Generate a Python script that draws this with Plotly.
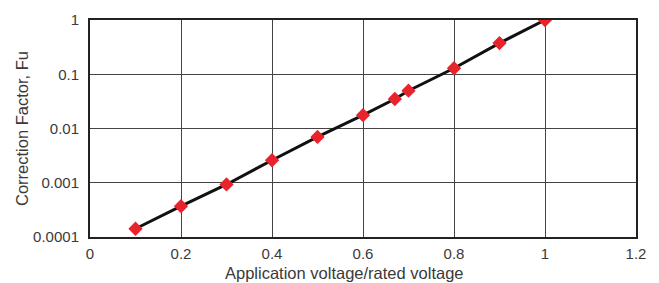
import plotly.graph_objects as go

ratio = [0.1, 0.2, 0.3, 0.4, 0.5, 0.6, 0.67, 0.7, 0.8, 0.9, 1.0]
fu = [0.000142, 0.00037, 0.00093, 0.0026, 0.0070, 0.0176, 0.035, 0.0497, 0.129, 0.375, 1.0]

x_ticks = [0, 0.2, 0.4, 0.6, 0.8, 1.0, 1.2]
x_labels = ["0", "0.2", "0.4", "0.6", "0.8", "1", "1.2"]
y_ticks = [0.0001, 0.001, 0.01, 0.1, 1]
y_labels = ["0.0001", "0.001", "0.01", "0.1", "1"]

fig = go.Figure()
fig.add_trace(go.Scatter(
    x=ratio, y=fu, mode="lines+markers",
    line=dict(color="#111111", width=3),
    marker=dict(symbol="diamond", size=11, color="#e8232b"),
    showlegend=False,
))

tick_font = dict(family="Liberation Sans, Arial, sans-serif", size=15, color="#3a3a3a")
title_font = dict(family="Liberation Sans, Arial, sans-serif", size=16.5, color="#3a3a3a")
fig.update_layout(
    width=659, height=283,
    margin=dict(l=90, r=23, t=20, b=46),
    paper_bgcolor="white", plot_bgcolor="white",
    font=tick_font,
    xaxis=dict(
        range=[0, 1.2], tickvals=x_ticks, ticktext=x_labels,
        showgrid=True, gridcolor="#444444", gridwidth=1,
        showline=True, linecolor="#222222", linewidth=2, mirror=True,
        zeroline=False, ticks="", ticklabelstandoff=2, automargin=False,
        tickfont=tick_font,
    ),
    yaxis=dict(
        type="log", range=[-4, 0], tickvals=y_ticks, ticktext=y_labels,
        showgrid=True, gridcolor="#444444", gridwidth=1,
        showline=True, linecolor="#222222", linewidth=2, mirror=True,
        zeroline=False, ticks="", ticklabelstandoff=6, automargin=False,
        tickfont=tick_font,
        title=dict(text="Correction Factor, Fu", standoff=0, font=title_font),
    ),
    annotations=[dict(
        text="Application voltage/rated voltage", xref="paper", yref="paper",
        x=0.467, y=-0.165, xanchor="center", yanchor="middle",
        showarrow=False, font=title_font,
    )],
)

fig.write_html("out.html", config={"displayModeBar": False},
               post_script="document.body.style.margin='0';")
